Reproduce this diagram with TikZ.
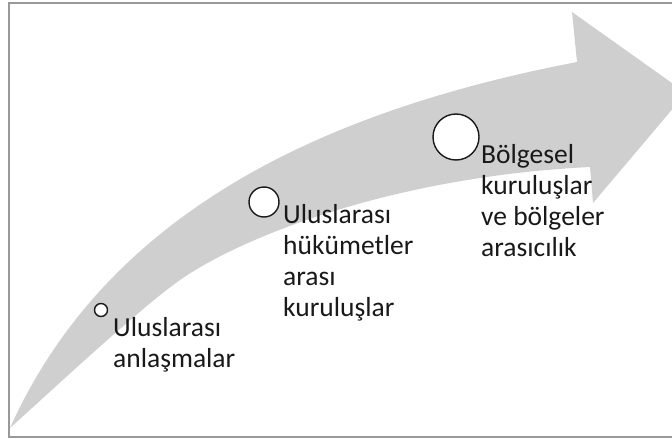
\documentclass[tikz,border=0pt]{standalone}
\usepackage{fontspec}
\setmainfont{Carlito}
\usepackage{tikz}
\tikzset{
    frame/.style={draw=black!40, line width=1.2pt},
    band/.style={fill=black!19},
    dot/.style={circle, draw=black!90, line width=1.4pt, fill=white, inner sep=0pt},
    stagetext/.style={anchor=base west, align=left, inner sep=0pt,
        font=\fontsize{27.5}{31}\selectfont, text=black!90}
}

\begin{document}
\begin{tikzpicture}[x=1pt, y=-1pt]
    \useasboundingbox (0,0) rectangle (672,439);
    \clip (0,0) rectangle (672,439);
    % Frame (open on the right)
    \draw[frame] (672,3) -- (9,3) -- (9,437) -- (672,437);
    % Curved arrow
    \fill[band] (10,428) .. controls (108,210) and (327,110) .. (577,62)
        -- (572,12) -- (686,93) -- (593,203) -- (590,167)
        .. controls (390,177) and (240,238) .. (180,280)
        .. controls (140,308) and (50,392) .. (10,428) -- cycle;
    % Stage dots
    \node[dot, minimum size=13pt] (dotA) at (101,310) {};
    \node[dot, minimum size=30pt] (dotB) at (264,202) {};
    \node[dot, minimum size=46pt] (dotC) at (456,137) {};
    % Stage labels (base = last line)
    \node[stagetext] (stageA) at (113,367) {Uluslarası\\anlaşmalar};
    \node[stagetext] (stageB) at (283,316) {Uluslarası\\hükümetler\\arası\\kuruluşlar};
    \node[stagetext] (stageC) at (481,256) {Bölgesel\\kuruluşlar\\ve bölgeler\\arasıcılık};
\end{tikzpicture}
\end{document}
